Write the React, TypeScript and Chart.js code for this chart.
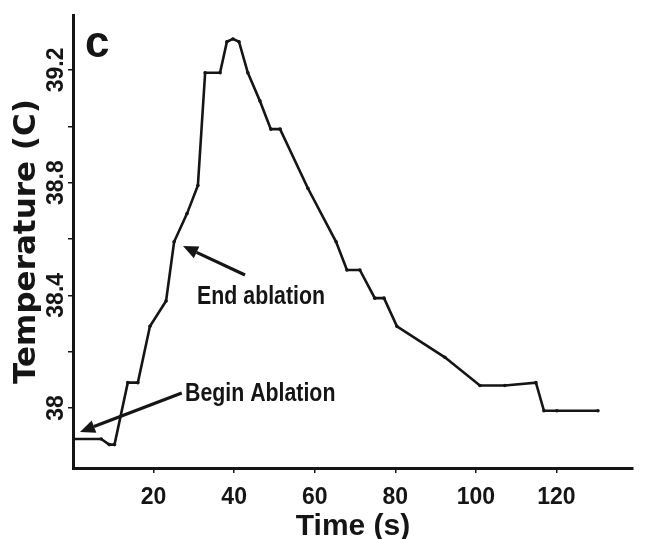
import { useEffect, useRef } from 'react';
import { Chart, registerables } from 'chart.js';

Chart.register(...registerables);

// ---- data ----
const timeSeconds = [0, 7, 9, 10.3, 13.6, 16.1, 19.1, 23.1, 25.1, 28.3, 31, 32.8, 36.5, 38.2, 39.7, 41.2, 43.4, 46.4, 49.1, 51.4, 58.3, 65.3, 68, 71.2, 74.9, 77.2, 80.4, 92.3, 101, 107.2, 114.9, 116.9, 120.1, 130.3];
const temperatureC = [37.89, 37.89, 37.87, 37.87, 38.09, 38.09, 38.29, 38.38, 38.59, 38.69, 38.79, 39.19, 39.19, 39.3, 39.31, 39.3, 39.19, 39.09, 38.99, 38.99, 38.78, 38.59, 38.49, 38.49, 38.39, 38.39, 38.29, 38.18, 38.08, 38.08, 38.09, 37.99, 37.99, 37.99];

const xTickValues = [20, 40, 60, 80, 100, 120];
const xTickLabels = ['20', '40', '60', '80', '100', '120'];
const yTickValues = [38, 38.2, 38.4, 38.6, 38.8, 39.0, 39.2];
const yTickLabels = ['38', '', '38.4', '', '38.8', '', '39.2'];

const xRange = [0, 139];
const yRange = [37.787, 39.395];

const xTitle = 'Time (s)';
const yTitle = 'Temperature (C)';
const panelLabel = 'c';
const noteLabels = ['End ablation', 'Begin Ablation'];

// annotation anchors in data coordinates
const noteAnchors = [
  { x: 30.8, y: 38.394 },
  { x: 27.8, y: 38.05 },
];
const arrowTails = [
  { x: 42.7, y: 38.472 },
  { x: 27.0, y: 38.053 },
];
const arrowTips = [
  { x: 27.3, y: 38.575 },
  { x: 1.74, y: 37.915 },
];
const panelAnchor = { x: 6.0, y: 39.28 };

const INK = '#151515';
const SANS = '"Liberation Sans", Arial, sans-serif';

const annotationPlugin = {
  id: 'annotations',
  afterDraw(chart: any) {
    const { ctx } = chart;
    const xs = chart.scales.x;
    const ys = chart.scales.y;
    ctx.save();
    ctx.fillStyle = INK;
    ctx.strokeStyle = INK;
    // notes (narrow bold look: horizontally condensed)
    ctx.font = `bold 26px ${SANS}`;
    ctx.textAlign = 'left';
    ctx.textBaseline = 'middle';
    noteLabels.forEach((t, i) => {
      ctx.save();
      ctx.translate(xs.getPixelForValue(noteAnchors[i].x), ys.getPixelForValue(noteAnchors[i].y));
      ctx.scale(0.82, 1);
      ctx.fillText(t, 0, 0);
      ctx.restore();
    });
    // arrows
    arrowTips.forEach((tip, i) => {
      const x1 = xs.getPixelForValue(arrowTails[i].x);
      const y1 = ys.getPixelForValue(arrowTails[i].y);
      const x2 = xs.getPixelForValue(tip.x);
      const y2 = ys.getPixelForValue(tip.y);
      const ang = Math.atan2(y2 - y1, x2 - x1);
      const headLen = 15;
      const headW = 6.5;
      const bx = x2 - headLen * Math.cos(ang);
      const by = y2 - headLen * Math.sin(ang);
      ctx.lineWidth = 3.2;
      ctx.beginPath();
      ctx.moveTo(x1, y1);
      ctx.lineTo(bx, by);
      ctx.stroke();
      ctx.beginPath();
      ctx.moveTo(x2, y2);
      ctx.lineTo(bx + headW * Math.sin(ang), by - headW * Math.cos(ang));
      ctx.lineTo(bx - headW * Math.sin(ang), by + headW * Math.cos(ang));
      ctx.closePath();
      ctx.fill();
    });
    // panel label
    ctx.font = `bold 44px ${SANS}`;
    ctx.textAlign = 'center';
    ctx.textBaseline = 'middle';
    ctx.fillText(panelLabel, xs.getPixelForValue(panelAnchor.x), ys.getPixelForValue(panelAnchor.y) - 3);
    ctx.restore();
  },
};

export default function App() {
  const ref = useRef<HTMLCanvasElement | null>(null);

  useEffect(() => {
    if (!ref.current) return;
    const chart = new Chart(ref.current, {
      type: 'line',
      data: {
        datasets: [
          {
            data: timeSeconds.map((t, i) => ({ x: t, y: temperatureC[i] })),
            borderColor: INK,
            backgroundColor: INK,
            borderWidth: 2.6,
            pointRadius: 1.8,
            pointBorderWidth: 0,
            pointBackgroundColor: INK,
            tension: 0,
            fill: false,
          },
        ],
      },
      options: {
        animation: false,
        responsive: false,
        devicePixelRatio: 1,
        layout: { padding: { top: 15, right: 12, left: 0, bottom: 0 } },
        plugins: {
          legend: { display: false },
          tooltip: { enabled: false },
        },
        scales: {
          x: {
            type: 'linear',
            min: xRange[0],
            max: xRange[1],
            afterBuildTicks: (s: any) => {
              s.ticks = xTickValues.map((v) => ({ value: v }));
            },
            afterFit: (s: any) => {
              s.height = 71;
              s.paddingLeft = 0;
              s.paddingRight = 0;
            },
            border: { display: true, color: INK, width: 3 },
            grid: { display: true, drawOnChartArea: false, drawTicks: true, tickLength: 5, color: INK, lineWidth: 1.5 },
            ticks: {
              color: INK,
              autoSkip: false,
              maxRotation: 0,
              padding: 11,
              font: { family: SANS, size: 23, weight: 'bold' },
              callback: (_v: any, i: number) => xTickLabels[i],
            },
            title: {
              display: true,
              text: xTitle,
              color: INK,
              font: { family: SANS, size: 30, weight: 'bold', lineHeight: 0.8 },
              padding: { top: 0, bottom: 0 },
            },
          },
          y: {
            type: 'linear',
            min: yRange[0],
            max: yRange[1],
            afterBuildTicks: (s: any) => {
              s.ticks = yTickValues.map((v) => ({ value: v }));
            },
            afterFit: (s: any) => {
              s.width = 73;
              s.paddingTop = 0;
              s.paddingBottom = 0;
            },
            border: { display: true, color: INK, width: 3 },
            grid: { display: true, drawOnChartArea: false, drawTicks: true, tickLength: 5, color: INK, lineWidth: 1.5 },
            ticks: {
              color: INK,
              autoSkip: false,
              minRotation: 90,
              maxRotation: 90,
              crossAlign: 'center',
              padding: -11,
              font: { family: SANS, size: 23, weight: 'bold' },
              callback: (_v: any, i: number) => yTickLabels[i],
            },
            title: {
              display: true,
              text: yTitle,
              color: INK,
              font: { family: '"DejaVu Sans", sans-serif', size: 31, weight: 'bold', lineHeight: 1.2 },
              padding: { top: 8, bottom: 0 },
            },
          },
        },
      },
      plugins: [annotationPlugin],
    } as any);
    return () => chart.destroy();
  }, []);

  return (
    <div style={{ position: 'fixed', left: 0, top: 0, width: 645, height: 539, background: '#fff' }}>
      <canvas ref={ref} width={645} height={539} style={{ display: 'block', width: 645, height: 539 }} />
    </div>
  );
}
